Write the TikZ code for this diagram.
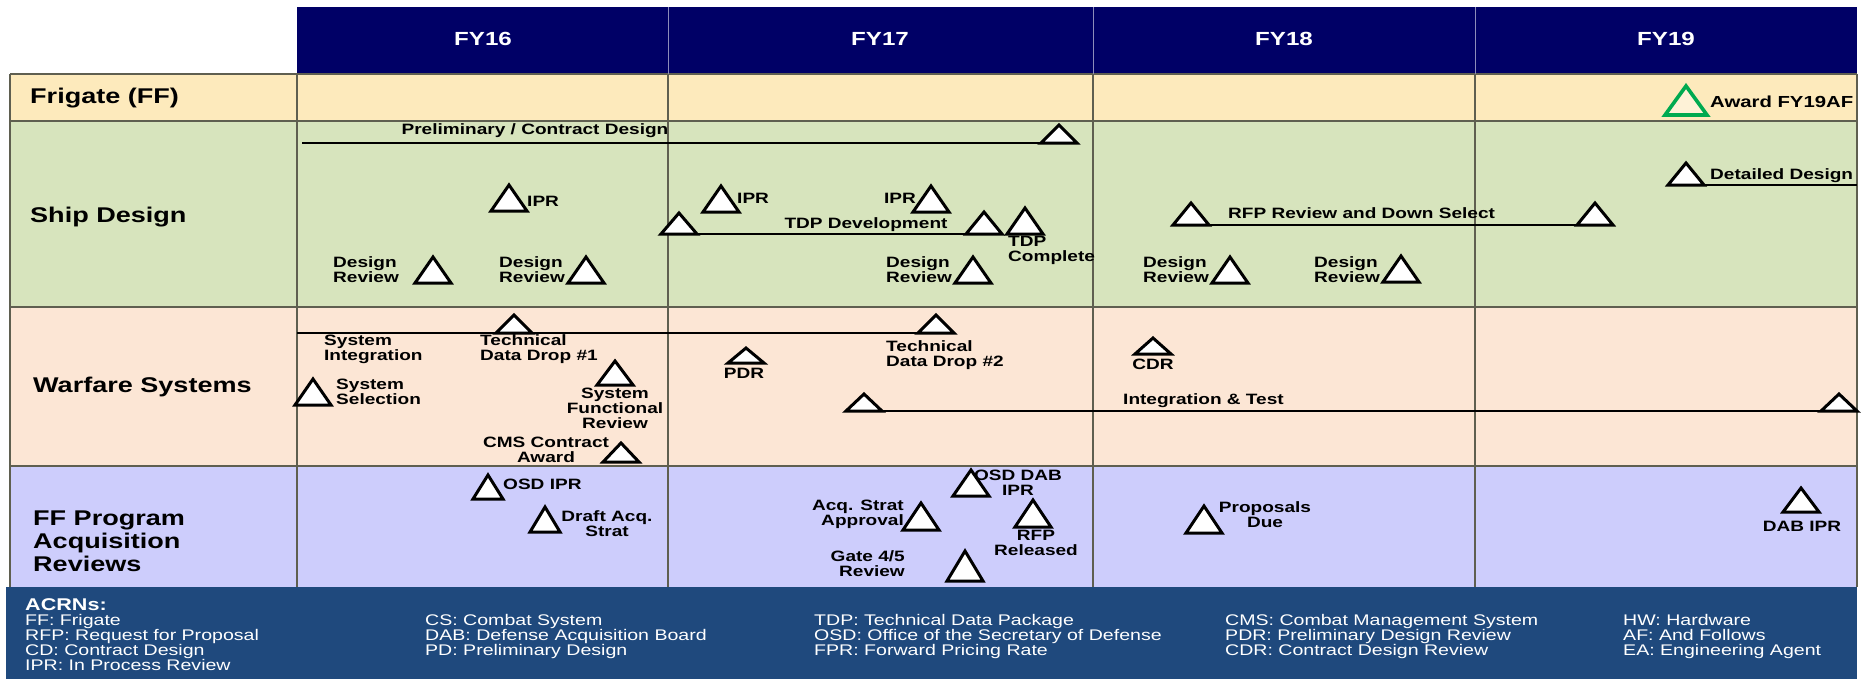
\documentclass[tikz,border=0pt]{standalone}
\usepackage{fontspec}
\setmainfont[FakeStretch=1.27]{Liberation Sans}
\usetikzlibrary{shapes.geometric}

\definecolor{navy}{RGB}{0,0,102}
\definecolor{frigbg}{RGB}{253,234,188}
\definecolor{shipbg}{RGB}{215,228,189}
\definecolor{warbg}{RGB}{252,230,213}
\definecolor{acqbg}{RGB}{205,205,252}
\definecolor{acrnbg}{RGB}{31,73,125}
\definecolor{gridc}{RGB}{95,95,80}
\definecolor{awardgreen}{RGB}{0,170,80}

\begin{document}
\begin{tikzpicture}[x=1pt, y=-1pt,
  ms/.style={isosceles triangle, isosceles triangle stretches, shape border rotate=90,
    minimum width=36pt, minimum height=26pt, inner sep=0pt, outer sep=0pt,
    draw=black, line width=3pt, fill=white, anchor=south},
  msflat/.style={ms, minimum height=18pt},
  lbl/.style={font=\fontsize{15}{15}\selectfont\bfseries, inner sep=0pt},
  rowlbl/.style={font=\fontsize{21.3}{23}\selectfont\bfseries, anchor=west, inner sep=0pt, align=left},
  yr/.style={font=\fontsize{19}{21}\selectfont\bfseries, text=white},
  acrn/.style={font=\fontsize{15.4}{15.2}\selectfont, text=white, anchor=north west, inner sep=0pt, align=left},
  bar/.style={line width=2.6pt}]
\useasboundingbox (0,0) rectangle (1872,680);

% bands
\fill [navy] (297,7) rectangle (1857,74);
\fill [frigbg] (10,74) rectangle (1857,121);
\fill [shipbg] (10,121) rectangle (1857,307);
\fill [warbg] (10,307) rectangle (1857,466);
\fill [acqbg] (10,466) rectangle (1857,587);
\fill [acrnbg] (6,587) rectangle (1857,679);

% grid
\foreach \y in {74,121,307,466}
  \draw [gridc, line width=1.8pt] (10,\y) -- (1857,\y);
\foreach \x in {10,297,668,1093,1475,1857}
  \draw [gridc, line width=1.8pt] (\x,74) -- (\x,587);
\foreach \x in {668,1093,1475}
  \draw [white!55!navy, line width=1pt] (\x,7) -- (\x,74);

% years
\node [yr] (fy16) at (483,39) {FY16};
\node [yr] (fy17) at (880,39) {FY17};
\node [yr] (fy18) at (1284,39) {FY18};
\node [yr] (fy19) at (1666,39) {FY19};

% row labels
\node [rowlbl] (frig) at (30,98) {Frigate (FF)};
\node [rowlbl] (ship) at (30,217) {Ship Design};
\node [rowlbl] (war) at (33,387) {Warfare Systems};
\node [rowlbl] (acq) at (33,541) {FF Program\\Acquisition\\Reviews};

% frigate
\node [ms, draw=awardgreen, line width=3.6pt, fill=white!40!frigbg, minimum width=42pt, minimum height=29pt] (award) at (1686,115) {};
\node [lbl, anchor=west, font=\fontsize{16}{17}\selectfont\bfseries] (awardt) at (1710,102) {Award FY19AF};

% ship design
\coordinate (pcdA) at (302,143);
\node [msflat] (pcd) at (1059,143) {};
\draw [bar] (pcdA) -- (pcd.left corner);
\node [lbl] (pcdt) at (535,131) {Preliminary / Contract Design};

\node [ms] (ipr1) at (509,211) {};
\node [lbl, anchor=west] (ipr1t) at (527,201) {IPR};
\node [ms] (ipr2) at (721,212) {};
\node [lbl, anchor=west] (ipr2t) at (737,198) {IPR};
\node [ms] (ipr3) at (931,212) {};
\node [lbl, anchor=east] (ipr3t) at (916,198) {IPR};

\node [msflat, minimum height=21pt] (tdpA) at (679,234) {};
\node [msflat, minimum height=22pt] (tdpB) at (984,234) {};
\node [ms] (tdpC) at (1025,234) {};
\draw [bar] (tdpA.left corner) -- (tdpB.right corner);
\node [lbl] (tdpt) at (866,225) {TDP Development};
\node [lbl, anchor=west, align=left] (tdpCt) at (1008,250) {TDP\\Complete};

\node [ms] (dr1) at (433,283) {};
\node [lbl, anchor=west, align=left] (dr1t) at (333,270) {Design\\Review};
\node [ms] (dr2) at (586,283) {};
\node [lbl, anchor=west, align=left] (dr2t) at (499,270) {Design\\Review};
\node [ms] (dr3) at (973,283) {};
\node [lbl, anchor=west, align=left] (dr3t) at (886,270) {Design\\Review};
\node [ms] (dr4) at (1230,283) {};
\node [lbl, anchor=west, align=left] (dr4t) at (1143,270) {Design\\Review};
\node [ms] (dr5) at (1401,282) {};
\node [lbl, anchor=west, align=left] (dr5t) at (1314,270) {Design\\Review};

\node [msflat, minimum height=22pt] (rfpA) at (1191,225) {};
\node [msflat, minimum height=22pt] (rfpB) at (1595,225) {};
\draw [bar] (rfpA.left corner) -- (rfpB.right corner);
\node [lbl, anchor=west] (rfpt) at (1228,213) {RFP Review and Down Select};

\node [msflat, minimum height=22pt] (dd) at (1686,185) {};
\coordinate (ddB) at (1857,185);
\draw [bar] (dd.left corner) -- (ddB);
\node [lbl, anchor=west] (ddt) at (1710,176) {Detailed Design};

% warfare systems
\coordinate (siA) at (297,333);
\node [msflat] (tdd1) at (514,333) {};
\node [msflat] (tdd2) at (936,333) {};
\draw [bar] (siA) -- (tdd2.right corner);
\node [lbl, anchor=west, align=left] (sit) at (324,349) {System\\Integration};
\node [lbl, anchor=west, align=left] (tdd1t) at (480,349) {Technical\\Data Drop \#1};
\node [lbl, anchor=west, align=left] (tdd2t) at (886,355) {Technical\\Data Drop \#2};

\node [ms] (sel) at (313,405) {};
\node [lbl, anchor=west, align=left] (selt) at (336,392) {System\\Selection};
\node [ms, minimum height=24pt] (sfr) at (615,385) {};
\node [lbl, align=center] (sfrt) at (615,408) {System\\Functional\\Review};
\node [msflat, minimum height=19pt] (cms) at (621,462) {};
\node [lbl, align=center] (cmst) at (546,450) {CMS Contract\\Award};

\node [msflat, minimum height=15pt] (pdr) at (746,363) {};
\node [lbl] (pdrt) at (744,373) {PDR};
\node [msflat, minimum height=16pt] (cdr) at (1153,354) {};
\node [lbl] (cdrt) at (1153,364) {CDR};

\node [msflat, minimum height=17pt] (itA) at (864,411) {};
\node [msflat, minimum height=17pt] (itB) at (1839,411) {};
\draw [bar] (itA.left corner) -- (itB.right corner);
\node [lbl, anchor=west] (itt) at (1123,401) {Integration \& Test};

% acquisition reviews
\node [ms, minimum width=30pt, minimum height=24pt] (osd) at (488,499) {};
\node [lbl, anchor=west] (osdt) at (503,484) {OSD IPR};
\node [ms, minimum width=30pt, minimum height=25pt] (draft) at (545,532) {};
\node [lbl, align=center] (draftt) at (607,524) {Draft Acq.\\Strat};

\node [ms, minimum height=27pt] (acqs) at (921,530) {};
\node [lbl, anchor=east, align=right] (acqst) at (904,514) {Acq. Strat\\Approval};
\node [ms] (osddab) at (971,496) {};
\node [lbl, align=center] (osddabt) at (1018,483) {OSD DAB\\IPR};
\node [ms, minimum height=27pt] (rfprel) at (1033,527) {};
\node [lbl, align=center] (rfprelt) at (1036,543) {RFP\\Released};
\node [ms, minimum height=30pt] (gate) at (965,581) {};
\node [lbl, anchor=east, align=right] (gatet) at (905,564) {Gate 4/5\\Review};

\node [ms, minimum height=27pt] (prop) at (1204,533) {};
\node [lbl, align=center] (propt) at (1265,515) {Proposals\\Due};
\node [ms, minimum height=24pt] (dabipr) at (1801,512) {};
\node [lbl] (dabiprt) at (1802,526) {DAB IPR};

% acronyms
\node [acrn, font=\fontsize{17}{18}\selectfont\bfseries] (acrnh) at (25,598) {ACRNs:};
\node [acrn] (ac1) at (25,614) {FF: Frigate\\RFP: Request for Proposal\\CD: Contract Design\\IPR: In Process Review};
\node [acrn] (ac2) at (425,614) {CS: Combat System\\DAB: Defense Acquisition Board\\PD: Preliminary Design};
\node [acrn] (ac3) at (814,614) {TDP: Technical Data Package\\OSD: Office of the Secretary of Defense\\FPR: Forward Pricing Rate};
\node [acrn] (ac4) at (1225,614) {CMS: Combat Management System\\PDR: Preliminary Design Review\\CDR: Contract Design Review};
\node [acrn] (ac5) at (1623,614) {HW: Hardware\\AF: And Follows\\EA: Engineering Agent};
\end{tikzpicture}
\end{document}
